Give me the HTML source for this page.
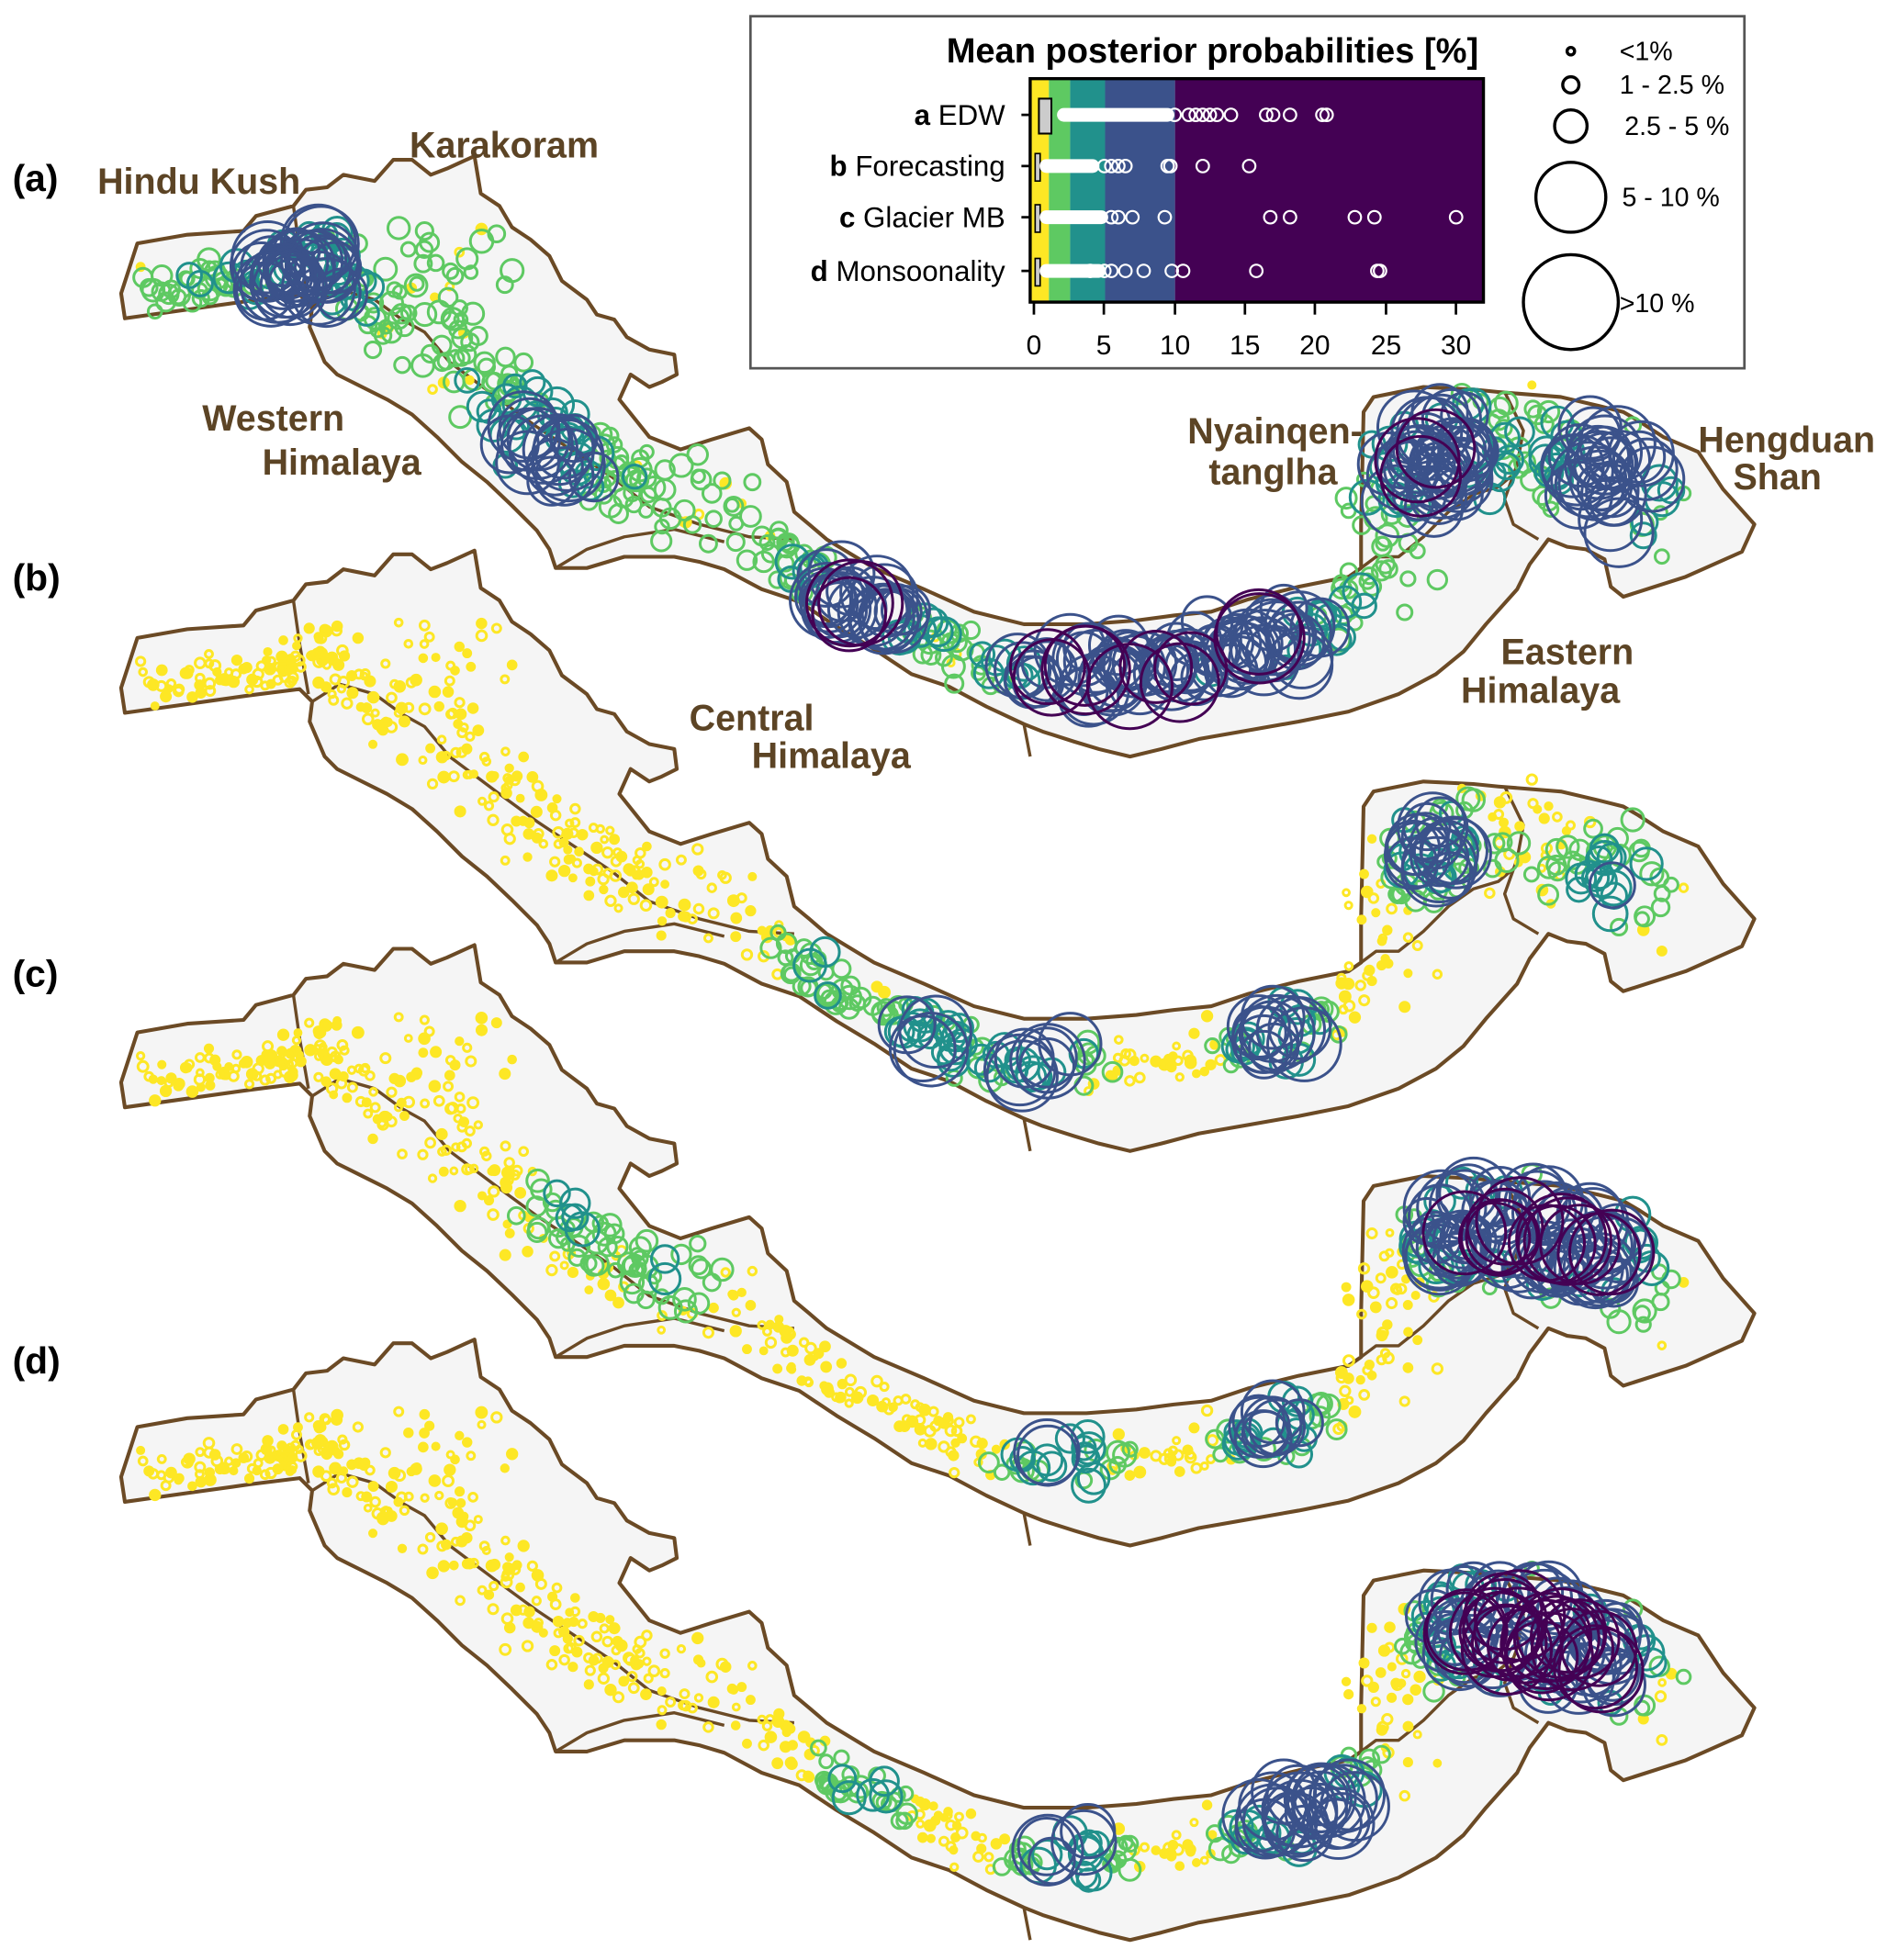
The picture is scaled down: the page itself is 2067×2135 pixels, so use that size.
<!DOCTYPE html>
<html><head><meta charset="utf-8">
<style>
html,body{margin:0;padding:0;background:#fff;}
svg{display:block;}
.lab{font-family:"Liberation Sans",sans-serif;font-weight:bold;fill:#5c4425;font-size:29px;}
.pl{font-family:"Liberation Sans",sans-serif;font-weight:bold;fill:#000;font-size:30px;}
.lg{font-family:"Liberation Sans",sans-serif;fill:#000;font-size:21px;}
</style></head><body>
<svg id="s" width="2067" height="2135" viewBox="0 0 1520 1570" xmlns="http://www.w3.org/2000/svg">
<defs>
<g id="map">
<path d="M100,255 L97,235 L110,195 L150,188 L195,185 L205,173 L235,165 L245,152 L262,150 L275,140 L300,145 L315,128 L330,128 L345,140 L358,135 L380,125 L385,155 L400,165 L410,182 L425,192 L440,205 L450,225 L470,240 L478,252 L492,256 L502,270 L520,280 L540,284 L542,300 L530,306 L520,310 L505,300 L496,320 L520,350 L545,360 L570,352 L600,343 L610,352 L615,372 L630,386 L636,410 L648,420 L662,432 L700,455 L740,472 L780,490 L820,500 L870,500 L910,497 L940,493 L970,490 L1000,480 L1040,470 L1080,462 L1090,455 L1090,420 L1092,330 L1100,318 L1140,310 L1180,312 L1200,314 L1250,318 L1280,325 L1300,330 L1312,337 L1332,350 L1360,362 L1380,392 L1405,420 L1395,442 L1350,462 L1300,478 L1290,470 L1285,448 L1270,440 L1255,438 L1240,432 L1225,452 L1215,472 L1190,500 L1172,522 L1150,540 L1120,556 L1080,570 L1040,578 L1000,585 L960,592 L930,600 L905,606 L880,600 L860,594 L835,586 L820,580 L790,566 L760,550 L730,540 L700,520 L670,502 L640,482 L610,472 L580,456 L560,450 L540,446 L500,446 L470,455 L445,455 L440,440 L430,425 L410,405 L390,386 L370,370 L350,350 L330,332 L310,320 L290,310 L270,300 L260,290 L248,262 L250,246 L240,236 L200,241 L150,248 Z" fill="#f5f5f5" stroke="#6b4a25" stroke-width="3" stroke-linejoin="round"/>
<path d="M235,165 L240,200 L247,240 M250,246 L272,232 L300,240 L322,256 L340,266 L360,290 L400,320 L430,342 L460,362 L490,382 L520,406 L560,420 L600,430 L636,432 M445,455 L470,440 L500,430 L540,424 L580,434 M820,580 L825,606 M1090,455 L1102,446 L1120,446 L1140,430 L1160,410 L1180,396 L1200,390 L1212,380 M1205,314 L1220,345 L1215,372 L1205,400 L1212,420 L1232,432" fill="none" stroke="#6b4a25" stroke-width="2.5" stroke-linejoin="round"/>
</g>
</defs>
<use href="#map"/>
<use href="#map" y="316"/>
<use href="#map" y="632"/>
<use href="#map" y="948"/>
<g id="dots" fill="none" stroke-width="2.2"></g>

<text class="pl" x="10" y="153">(a)</text>
<text class="pl" x="10" y="473">(b)</text>
<text class="pl" x="10" y="790">(c)</text>
<text class="pl" x="10" y="1100">(d)</text>
<text class="lab" x="78" y="155">Hindu Kush</text>
<text class="lab" x="328" y="126">Karakoram</text>
<text class="lab" x="162" y="345">Western</text>
<text class="lab" x="210" y="380">Himalaya</text>
<text class="lab" x="951" y="355">Nyainqen-</text>
<text class="lab" x="968" y="388">tanglha</text>
<text class="lab" x="1360" y="362">Hengduan</text>
<text class="lab" x="1388" y="392">Shan</text>
<text class="lab" x="1202" y="532">Eastern</text>
<text class="lab" x="1170" y="563">Himalaya</text>
<text class="lab" x="552" y="585">Central</text>
<text class="lab" x="602" y="615">Himalaya</text>

<rect x="601" y="13" width="796" height="282" fill="#fff" stroke="#555" stroke-width="2"/>
<text x="971" y="50" text-anchor="middle" style="font-family:'Liberation Sans',sans-serif;font-weight:bold;font-size:28px">Mean posterior probabilities [%]</text>
<rect x="825" y="63" width="15" height="179" fill="#fde725"/>
<rect x="840" y="63" width="17" height="179" fill="#5ec962"/>
<rect x="857" y="63" width="28" height="179" fill="#21918c"/>
<rect x="885" y="63" width="56" height="179" fill="#3b528b"/>
<rect x="941" y="63" width="247" height="179" fill="#440154"/>
<rect x="825" y="63" width="363" height="179" fill="none" stroke="#000" stroke-width="2.5"/>
<g stroke="#000" stroke-width="2">
<line x1="818" y1="92" x2="825" y2="92"/><line x1="818" y1="133" x2="825" y2="133"/><line x1="818" y1="174" x2="825" y2="174"/><line x1="818" y1="217" x2="825" y2="217"/>
<line x1="828" y1="242" x2="828" y2="252"/><line x1="884" y1="242" x2="884" y2="252"/><line x1="941" y1="242" x2="941" y2="252"/><line x1="997" y1="242" x2="997" y2="252"/><line x1="1053" y1="242" x2="1053" y2="252"/><line x1="1110" y1="242" x2="1110" y2="252"/><line x1="1166" y1="242" x2="1166" y2="252"/>
</g>
<g text-anchor="middle" style="font-family:'Liberation Sans',sans-serif;font-size:22px">
<text x="828" y="284">0</text><text x="884" y="284">5</text><text x="941" y="284">10</text><text x="997" y="284">15</text><text x="1053" y="284">20</text><text x="1110" y="284">25</text><text x="1166" y="284">30</text>
</g>
<g style="font-family:'Liberation Sans',sans-serif;font-size:23px" text-anchor="end">
<text x="805" y="100"><tspan font-weight="bold">a</tspan> EDW</text>
<text x="805" y="141"><tspan font-weight="bold">b</tspan> Forecasting</text>
<text x="805" y="182"><tspan font-weight="bold">c</tspan> Glacier MB</text>
<text x="805" y="225"><tspan font-weight="bold">d</tspan> Monsoonality</text>
</g>
<rect x="832" y="79" width="10" height="28" fill="#ccc" stroke="#000" stroke-width="1.5"/>
<rect x="829" y="123" width="4" height="22" fill="#ccc" stroke="#000" stroke-width="1.2"/>
<rect x="829" y="164" width="4" height="22" fill="#ccc" stroke="#000" stroke-width="1.2"/>
<rect x="829" y="207" width="4" height="22" fill="#ccc" stroke="#000" stroke-width="1.2"/>
<g stroke="#fff" stroke-width="11" stroke-linecap="round">
<line x1="852" y1="92" x2="935" y2="92"/><line x1="838" y1="133" x2="875" y2="133"/><line x1="838" y1="174" x2="882" y2="174"/><line x1="838" y1="217" x2="880" y2="217"/>
</g>
<g id="leg" fill="none" stroke="#fff" stroke-width="1.6"></g>
<g fill="none" stroke="#000" stroke-width="2.5">
<circle cx="1258" cy="41" r="3"/><circle cx="1258" cy="68" r="6.5"/><circle cx="1258" cy="101" r="13"/><circle cx="1258" cy="158" r="28"/><circle cx="1258" cy="242" r="38"/>
</g>
<g class="lg">
<text x="1297" y="48">&lt;1%</text><text x="1297" y="75">1 - 2.5 %</text><text x="1301" y="108">2.5 - 5 %</text><text x="1299" y="165">5 - 10 %</text><text x="1297" y="250">&gt;10 %</text>
</g>
</svg>
<script>
(function(){
var s=12345;function r(){s=(s*16807)%2147483647;return s/2147483647;}
function g(){return (r()+r()+r()-1.5)*1.4;}
var NS="http://www.w3.org/2000/svg";
var D=document.getElementById("dots"),L=document.getElementById("leg");
function c(p,x,y,rad,col,fill){var e=document.createElementNS(NS,"circle");e.setAttribute("cx",x.toFixed(1));e.setAttribute("cy",y.toFixed(1));e.setAttribute("r",rad.toFixed(1));e.setAttribute("stroke",col);if(fill)e.setAttribute("fill",fill);p.appendChild(e);}
var lx=[[92,[10,11,11.5,12,12.5,13,14,16.5,17,18.2,20.5,20.8]],[133,[5,5.5,6,6.5,9.5,9.7,12,15.3]],[174,[5.5,6,7,9.3,16.8,18.2,22.8,24.2,30]],[217,[4,5,5.5,6.5,7.8,9.8,10.6,15.8,24.4,24.6]]];
lx.forEach(function(a){a[1].forEach(function(v){c(L,828+v*11.27,a[0],5,"#fff");});});
var cl=[[115,232],[170,226],[232,218],[262,200],[285,240],[330,265],[380,300],[420,330],[460,360],[500,382],[540,400],[600,422],[640,462],[690,482],[740,510],[790,530],[850,540],[910,540],[970,525],[1020,510],[1070,495],[1105,450],[1120,400],[1140,372],[1180,352],[1230,352],[1280,382],[1315,405]];
var pts=[];
for(var i=0;i<620;i++){var t=r()*(cl.length-1);var k=Math.floor(t),f=t-k;var a=cl[k],b=cl[k+1];
var x=a[0]+(b[0]-a[0])*f,y=a[1]+(b[1]-a[1])*f;var sp=(x<260)?12:(x<600?24:(x>1090?28:15));
pts.push([x+g()*sp,y+g()*sp,r()]);}
for(var i=0;i<30;i++){pts.push([310+r()*110,180+r()*90,r()]);}
var hs=[
 {dy:0,base:1.0,h:[[240,225,1.7],[430,370,1.8],[690,480,2.3],[850,535,2.5],[930,540,2.2],[1010,505,2.4],[1150,370,2.4],[1290,385,2.3]]},
 {dy:316,base:0,h:[[660,465,1.5],[740,525,2.3],[835,528,2.5],[1020,505,2.9],[1150,365,2.5],[1290,390,2.3]]},
 {dy:632,base:0,h:[[850,530,2.4],[1020,505,2.6],[1170,350,2.9],[1230,350,2.8],[1290,380,2.9],[460,330,1.6],[540,375,1.6]]},
 {dy:948,base:0,h:[[855,530,2.4],[1020,500,2.4],[1075,500,2.3],[690,480,1.7],[1175,355,2.9],[1230,355,2.9],[1285,385,2.9]]}
];
var cols=["#fde725","#5ec962","#21918c","#3b528b","#440154"];
hs.forEach(function(P){
 var arr=[];
 pts.forEach(function(p){var v=P.base*(0.7+p[2]*0.6);
  P.h.forEach(function(h){var dx=p[0]-h[0],dy=p[1]-h[1];v+=h[2]*Math.exp(-(dx*dx+dy*dy)/(2*32*32));});
  v+=(r()-0.5)*0.8;
  var cat=v<0.7?0:v<1.6?1:v<2.2?2:v<3.45?3:4;arr.push([cat,p]);});
 arr.sort(function(a,b){return a[0]-b[0];});
 arr.forEach(function(q){var cat=q[0],p=q[1],rad;
  if(cat==0)rad=2.5+r()*1.5;else if(cat==1)rad=5+r()*4;else if(cat==2)rad=9+r()*5;else if(cat==3)rad=18+r()*12;else rad=28+r()*8;
  c(D,p[0],p[1]+P.dy,rad,cols[cat],cat==0&&r()<0.5?"#fde725":null);});
});
})();
</script>
</body></html>
